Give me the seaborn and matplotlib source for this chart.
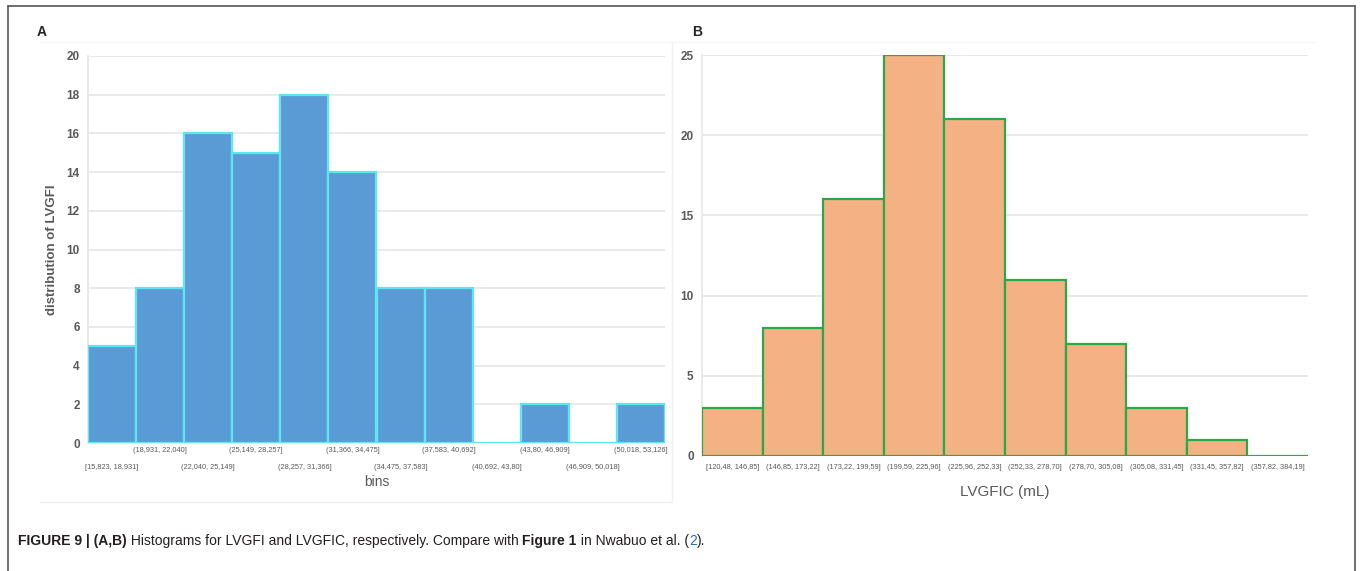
import matplotlib
matplotlib.use("Agg")
import matplotlib.pyplot as plt
import seaborn as sns
import pandas as pd
from matplotlib.lines import Line2D

# ---- data ----
bins_a = ["[15,823, 18,931]", "(18,931, 22,040]", "(22,040, 25,149]", "(25,149, 28,257]",
          "(28,257, 31,366]", "(31,366, 34,475]", "(34,475, 37,583]", "(37,583, 40,692]",
          "(40,692, 43,80]", "(43,80, 46,909]", "(46,909, 50,018]", "(50,018, 53,126]"]
counts_a = [5, 8, 16, 15, 18, 14, 8, 8, 0, 2, 0, 2]
yticks_a = [0, 2, 4, 6, 8, 10, 12, 14, 16, 18, 20]

bins_b = ["[120,48, 146,85]", "(146,85, 173,22]", "(173,22, 199,59]", "(199,59, 225,96]",
          "(225,96, 252,33]", "(252,33, 278,70]", "(278,70, 305,08]", "(305,08, 331,45]",
          "(331,45, 357,82]", "(357,82, 384,19]"]
counts_b = [3, 8, 16, 25, 21, 11, 7, 3, 1, 0]
yticks_b = [0, 5, 10, 15, 20, 25]

sns.set_theme(style="white")
plt.rcParams["font.family"] = ["Liberation Sans", "DejaVu Sans"]

W, H = 1360, 571
fig = plt.figure(figsize=(W / 100, H / 100), dpi=100)

def frac(x0, x1, ytop, ybot):
    return [x0 / W, 1 - ybot / H, (x1 - x0) / W, (ybot - ytop) / H]

tick_col = "#595959"
grid_col = "#E6E6E6"

# ---- panel A ----
axA = fig.add_axes(frac(88, 665, 56, 443))
dfa = pd.DataFrame({"bin": bins_a, "count": counts_a})
sns.barplot(data=dfa, x="bin", y="count", ax=axA, color="#5B9BD5", saturation=1,
            width=1.0, edgecolor="#5CE6F2", linewidth=1.6, zorder=3)
axA.set_ylim(0, 20)
axA.set_xlim(-0.5, len(bins_a) - 0.5)
axA.set_yticks(yticks_a)
axA.set_yticklabels([str(v) for v in yticks_a], fontsize=8.5, color=tick_col, fontweight="bold")
axA.set_xticks(range(len(bins_a)))
axA.set_xticklabels(bins_a, fontsize=5.3, color=tick_col)
axA.tick_params(axis="both", length=0, pad=6)
axA.tick_params(axis="x", pad=3)
for i, tk in enumerate(axA.xaxis.get_major_ticks()):
    tk.set_pad(15 if i % 2 == 0 else 3)
axA.yaxis.grid(True, color=grid_col, linewidth=1.2, zorder=0)
axA.set_axisbelow(True)
for s in ["top", "right", "bottom"]:
    axA.spines[s].set_visible(False)
axA.spines["left"].set_color(grid_col)
axA.spines["left"].set_linewidth(1.2)
axA.set_xlabel("bins", fontsize=10, color=tick_col, labelpad=3)
axA.set_ylabel("distribution of LVGFI", fontsize=9.5, color=tick_col, fontweight="bold", labelpad=6)

# ---- panel B ----
axB = fig.add_axes(frac(702, 1308, 55, 456))
dfb = pd.DataFrame({"bin": bins_b, "count": counts_b})
sns.barplot(data=dfb, x="bin", y="count", ax=axB, color="#F4B183", saturation=1,
            width=1.0, edgecolor="#2BA84A", linewidth=1.6, zorder=3)
axB.set_ylim(0, 25)
axB.set_xlim(-0.5, len(bins_b) - 0.5)
axB.set_yticks(yticks_b)
axB.set_yticklabels([str(v) for v in yticks_b], fontsize=8.5, color=tick_col, fontweight="bold")
axB.set_xticks(range(len(bins_b)))
axB.set_xticklabels(bins_b, fontsize=5.3, color=tick_col)
axB.tick_params(axis="both", length=0, pad=6)
axB.tick_params(axis="x", pad=6)
axB.yaxis.grid(True, color=grid_col, linewidth=1.2, zorder=0)
axB.set_axisbelow(True)
for s in ["top", "right", "bottom"]:
    axB.spines[s].set_visible(False)
axB.spines["left"].set_color(grid_col)
axB.spines["left"].set_linewidth(1.2)
axB.set_xlabel("LVGFIC (mL)", fontsize=11, color=tick_col, labelpad=10)
axB.set_ylabel("")

# ---- panel letters ----
fig.text(37 / W, 1 - 32 / H, "A", fontsize=10, fontweight="bold", va="center", ha="left")
fig.text(692 / W, 1 - 32 / H, "B", fontsize=10, fontweight="bold", va="center", ha="left")

# ---- faint panel separators ----
fig.add_artist(Line2D([672 / W, 672 / W], [1 - 42 / H, 1 - 500 / H], color="#F0F0F0", lw=1))
fig.add_artist(Line2D([40 / W, 672 / W], [1 - 502 / H, 1 - 502 / H], color="#F0F0F0", lw=1))
fig.add_artist(Line2D([40 / W, 1315 / W], [1 - 42 / H, 1 - 42 / H], color="#F5F5F5", lw=1))

# ---- outer frame ----
fc = "#555555"
fig.add_artist(Line2D([8 / W, 8 / W], [0, 1 - 6 / H], color=fc, lw=1.2))
fig.add_artist(Line2D([8 / W, 1355 / W], [1 - 6 / H, 1 - 6 / H], color=fc, lw=1.2))
fig.add_artist(Line2D([1355 / W, 1355 / W], [0, 1 - 6 / H], color=fc, lw=1.2))

# ---- caption ----
cy = 1 - 541 / H
parts = [("FIGURE 9 | (A,B)", "bold", "#231F20"),
         (" Histograms for LVGFI and LVGFIC, respectively. Compare with ", "normal", "#231F20"),
         ("Figure 1", "bold", "#231F20"),
         (" in Nwabuo et al. (", "normal", "#231F20"),
         ("2", "normal", "#1F6FB5"),
         (").", "normal", "#231F20")]
fig.canvas.draw()
renderer = fig.canvas.get_renderer()
x = 18 / W
for txt, wt, col in parts:
    t = fig.text(x, cy, txt, fontsize=10, fontweight=wt, color=col, va="center", ha="left")
    bb = t.get_window_extent(renderer=renderer)
    x += bb.width / W

fig.savefig("out.png", dpi=100)
